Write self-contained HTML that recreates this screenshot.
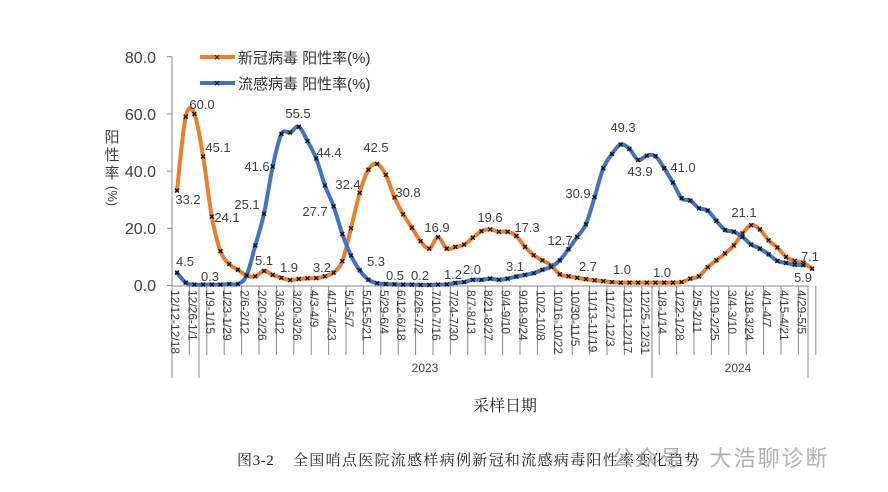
<!DOCTYPE html>
<html><head><meta charset="utf-8"><style>
html,body{margin:0;padding:0;background:#fff;}
body{width:888px;height:492px;overflow:hidden;position:relative;font-family:"Liberation Sans","Noto Sans CJK SC",sans-serif;}
svg{position:absolute;left:0;top:0;}
</style></head><body>
<svg id="s" width="888" height="492" viewBox="0 0 888 492" xmlns="http://www.w3.org/2000/svg">
<g font-family="Liberation Sans, Noto Sans CJK SC, sans-serif" fill="#404040">
<text x="156" y="63" font-size="16" text-anchor="end">80.0</text>
<text x="156" y="120" font-size="16" text-anchor="end">60.0</text>
<text x="156" y="177" font-size="16" text-anchor="end">40.0</text>
<text x="156" y="234" font-size="16" text-anchor="end">20.0</text>
<text x="156" y="291" font-size="16" text-anchor="end">0.0</text>
<text x="112" y="142" font-size="15" text-anchor="middle">阳</text>
<text x="112" y="160" font-size="15" text-anchor="middle">性</text>
<text x="112" y="178" font-size="15" text-anchor="middle">率</text>
<text x="112" y="200" font-size="13" text-anchor="middle" transform="rotate(90 112 196)">(%)</text>
<line x1="200" y1="57" x2="235" y2="57" stroke="#ED7D31" stroke-width="4"/>
<text x="217" y="61" font-size="11" fill="#000" text-anchor="middle">×</text>
<text x="238" y="63" font-size="15" fill="#333">新冠病毒 阳性率(%)</text>
<line x1="200" y1="83" x2="235" y2="83" stroke="#4472C4" stroke-width="4"/>
<text x="217" y="87" font-size="11" fill="#000" text-anchor="middle">×</text>
<text x="238" y="89" font-size="15" fill="#333">流感病毒 阳性率(%)</text>
<text x="505" y="411" font-size="16" fill="#222" text-anchor="middle" font-family="Liberation Serif, Noto Serif CJK SC, serif">采样日期</text>
<text x="425" y="372" font-size="12" text-anchor="middle">2023</text>
<text x="738" y="372" font-size="12" text-anchor="middle">2024</text>
<text x="237" y="465" font-size="15" fill="#222" font-family="Liberation Serif, Noto Serif CJK SC, serif" letter-spacing="0.6">图3-2</text>
<text x="293" y="465" font-size="15" fill="#222" font-family="Liberation Serif, Noto Serif CJK SC, serif" letter-spacing="1.3">全国哨点医院流感样病例新冠和流感病毒阳性率变化趋势</text>
<text x="612" y="466" font-size="22" fill="#b0b0b0" letter-spacing="2">公众号 · 大浩聊诊断</text>
</g>
<g id="ax" stroke="#888" stroke-width="1" fill="none"></g>
<g id="ln"></g>
<g id="lb" font-family="Liberation Sans, sans-serif" font-size="13" fill="#404040" text-anchor="middle"></g>
<g id="xl" font-family="Liberation Sans, sans-serif" font-size="12" fill="#404040"></g>
</svg>
<script>
var NS="http://www.w3.org/2000/svg";
function el(p,t,a,txt){var e=document.createElementNS(NS,t);for(var k in a)e.setAttribute(k,a[k]);if(txt!=null)e.textContent=txt;document.getElementById(p).appendChild(e);return e;}
var X0=177,DX=8.7,Y0=285.5,K=2.86;
function px(i){return X0+i*DX;} function py(v){return Y0-v*K;}
el('ax','line',{x1:172,y1:57,x2:172,y2:378});
el('ax','line',{x1:172,y1:286,x2:808,y2:286});
[0,20,40,60,80].forEach(function(v){el('ax','line',{x1:167,y1:py(v),x2:172,y2:py(v)});});
for(var k=1;k<=37;k++){var x=172+k*17.4;el('ax','line',{x1:x,y1:286,x2:x,y2:355});}
el('ax','line',{x1:199,y1:286,x2:199,y2:378});
el('ax','line',{x1:652,y1:286,x2:652,y2:378});
el('ax','line',{x1:808,y1:286,x2:808,y2:378});
var orange=[33.2,59,60,45.1,24.1,12,7.5,5.5,3.5,3.2,5.1,3.7,2.7,1.9,2.3,2.5,2.6,3.2,4.5,8.5,20,32.4,40.5,42.5,38.7,30.8,24.9,20.2,15.5,12.9,16.9,12.9,13.5,14.3,16.7,19,19.6,18.8,18.8,17.3,13.5,10.6,8.8,7,5.0,3.9,3.2,2.7,2.2,1.8,1.5,1.2,1.0,1.0,1.0,1.0,1.0,1.0,1.0,1.2,2.4,3.2,6.4,8.8,11.2,14,18.2,21.1,19.6,15.8,13.3,10,8.6,7.9,5.9];
orange.splice(44,1);
var blue=[4.5,1,0.3,0.3,0.3,0.3,0.5,0.5,3.5,14,25.1,41.6,53,53.5,55.5,50.5,44.4,35,27.7,18,10.5,5.3,2,0.8,0.5,0.4,0.3,0.3,0.2,0.2,0.3,0.4,0.9,1.2,2.0,2.0,2.4,2.0,2.4,3.1,3.7,4.3,5.5,6.5,8.8,12.7,17,21.4,30.9,41,46,49.3,47.8,43.9,45.4,45.2,41.0,36,30.5,29.7,27,26.2,22.6,19.4,18.8,17,14.3,12.9,10.9,8.6,7.9,7.3,7.1];
function path(d){var p=d.map(function(v,i){return[px(i),py(v)];});var s="M"+p[0][0]+","+p[0][1];
for(var i=0;i<p.length-1;i++){var a=p[i-1]||p[i],b=p[i],c=p[i+1],e=p[i+2]||c,t=6;
s+=" C"+(b[0]+(c[0]-a[0])/t)+","+(b[1]+(c[1]-a[1])/t)+" "+(c[0]-(e[0]-b[0])/t)+","+(c[1]-(e[1]-b[1])/t)+" "+c[0]+","+c[1];}return s;}
function series(d,col){el('ln','path',{d:path(d),stroke:col,'stroke-width':4,fill:'none','stroke-linejoin':'round','stroke-linecap':'round'});
d.forEach(function(v,i){var x=px(i),y=py(v),r=2;el('ln','path',{d:"M"+(x-r)+","+(y-r)+"L"+(x+r)+","+(y+r)+"M"+(x+r)+","+(y-r)+"L"+(x-r)+","+(y+r),stroke:'#111','stroke-width':1.3});});}
series(orange,'#ED7D31');series(blue,'#4472C4');
var L=[["33.2",188,204],["60.0",202,109],["45.1",218,152],["24.1",227,222],["4.5",185,266],["0.3",210,281],["25.1",247,209],["41.6",257,171],["55.5",298,118],["44.4",329,157],["27.7",315,216],["5.1",264,265],["1.9",289,272],["3.2",322,272],["32.4",348,189],["42.5",376,152],["5.3",376,266],["30.8",408,197],["16.9",437,232],["19.6",490,222],["17.3",527,232],["12.7",560,245],["0.5",395,280],["0.2",420,280],["1.2",453,279],["2.0",472,274],["3.1",515,271],["30.9",578,198],["49.3",623,132],["43.9",640,176],["41.0",683,172],["21.1",744,217],["2.7",588,271],["1.0",622,274],["1.0",662,277],["7.1",810,261],["5.9",803,282]];
L.forEach(function(l){el('lb','text',{x:l[1],y:l[2]},l[0]);});
var xs=["12/12-12/18","12/26-1/1","1/9-1/15","1/23-1/29","2/6-2/12","2/20-2/26","3/6-3/12","3/20-3/26","4/3-4/9","4/17-4/23","5/1-5/7","5/15-5/21","5/29-6/4","6/12-6/18","6/26-7/2","7/10-7/16","7/24-7/30","8/7-8/13","8/21-8/27","9/4-9/10","9/18-9/24","10/2-10/8","10/16-10/22","10/30-11/5","11/13-11/19","11/27-12/3","12/11-12/17","12/25-12/31","1/8-1/14","1/22-1/28","2/5-2/11","2/19-2/25","3/4-3/10","3/18-3/24","4/1-4/7","4/15-4/21","4/29-5/5"];
xs.forEach(function(t,k){var x=175+k*17.4-4,y=290;el('xl','text',{x:x,y:y,transform:"rotate(90 "+x+" "+y+")"},t);});
</script>
</body></html>
